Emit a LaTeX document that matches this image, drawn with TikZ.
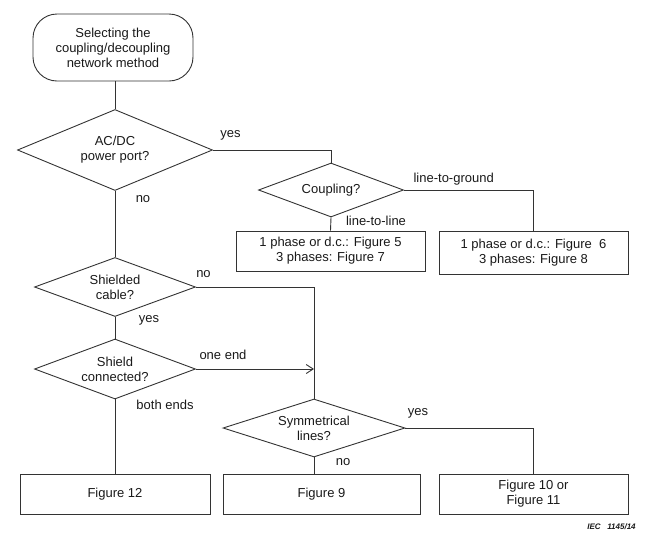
\documentclass[tikz,border=0pt]{standalone}
\usepackage{fontspec}
\setmainfont{Liberation Sans}
\usetikzlibrary{shapes.geometric,arrows.meta}
\begin{document}
\begin{tikzpicture}[x=1pt,y=-1pt,
  every node/.style={font=\fontsize{13}{15}\selectfont, text=black!90},
  ln/.style={draw=black!80, line width=0.9pt},
  dec/.style={ln, shape=diamond, inner sep=0pt, align=center},
  box/.style={ln, rectangle, inner sep=0pt, align=center},
  term/.style={ln, rectangle, rounded corners=24pt, inner sep=0pt, align=center},
  lbl/.style={inner sep=0pt}
]
\useasboundingbox (0,0) rectangle (657,550);

\node[term, minimum width=160pt, minimum height=67pt] (start) at (113,47.5) {Selecting the\\coupling/decoupling\\network method};
\node[dec, aspect=2.4, minimum width=195pt, minimum height=81pt] (acdc) at (115,150) {AC/DC\\power port?};
\node[dec, aspect=2.69, minimum width=145pt, minimum height=54pt] (coup) at (331,190) {Coupling?};
\node[box, minimum width=189pt, minimum height=40pt] (box1) at (330.5,251) {1 phase or d.c.: Figure 5\\3 phases: Figure 7};
\node[box, minimum width=189pt, minimum height=43pt] (box2) at (533.5,252.5) {1 phase or d.c.: Figure\ \ 6\\3 phases: Figure 8};
\node[dec, aspect=2.73, minimum width=161pt, minimum height=59pt] (shld) at (115,287) {Shielded\\cable?};
\node[dec, aspect=2.68, minimum width=161pt, minimum height=60pt] (shcon) at (115,369) {Shield\\connected?};
\node[dec, aspect=3.14, minimum width=182pt, minimum height=58pt] (sym) at (314,428) {Symmetrical\\lines?};
\node[box, minimum width=190pt, minimum height=40pt] (fig12) at (115,494) {Figure 12};
\node[box, minimum width=197pt, minimum height=40pt] (fig9) at (321.5,494) {Figure 9};
\node[box, minimum width=189pt, minimum height=40pt] (fig1011) at (533.5,494) {Figure 10 or\\Figure 11};

\coordinate (arrend) at (sym.north |- shcon.east);

\draw[ln] (start.south -| acdc.north) -- (acdc.north);
\draw[ln] (acdc.east) -| (coup.north);
\draw[ln] (coup.east) -| (box2.north);
\draw[ln] (coup.south) -- (box1.north);
\draw[ln] (acdc.south) -- (shld.north);
\draw[ln] (shld.east) -| (sym.north);
\draw[ln] (shld.south) -- (shcon.north);
\draw[ln, -{Straight Barb[length=7pt,width=9pt]}] (shcon.east) -- (arrend);
\draw[ln] (shcon.south) -- (fig12.north);
\draw[ln] (sym.east) -| (fig1011.north);
\draw[ln] (sym.south) -- (sym.south |- fig9.north);

\node[lbl] (l1) at (230.5,135) {yes};
\node[lbl] (l2) at (143,199) {no};
\node[lbl] (l3) at (453.7,178.7) {line-to-ground};
\node[lbl] (l4) at (376,220.7) {line-to-line};
\node[lbl] (l5) at (203.5,274) {no};
\node[lbl] (l6) at (149,320.7) {yes};
\node[lbl] (l7) at (223,354.7) {one end};
\node[lbl] (l8) at (165,405) {both ends};
\node[lbl] (l9) at (418,413) {yes};
\node[lbl] (l10) at (343,462) {no};
\node[lbl, font=\fontsize{8}{9}\selectfont\itshape\bfseries] (iec) at (611.5,527) {IEC\ \ \ 1145/14};
\end{tikzpicture}
\end{document}
